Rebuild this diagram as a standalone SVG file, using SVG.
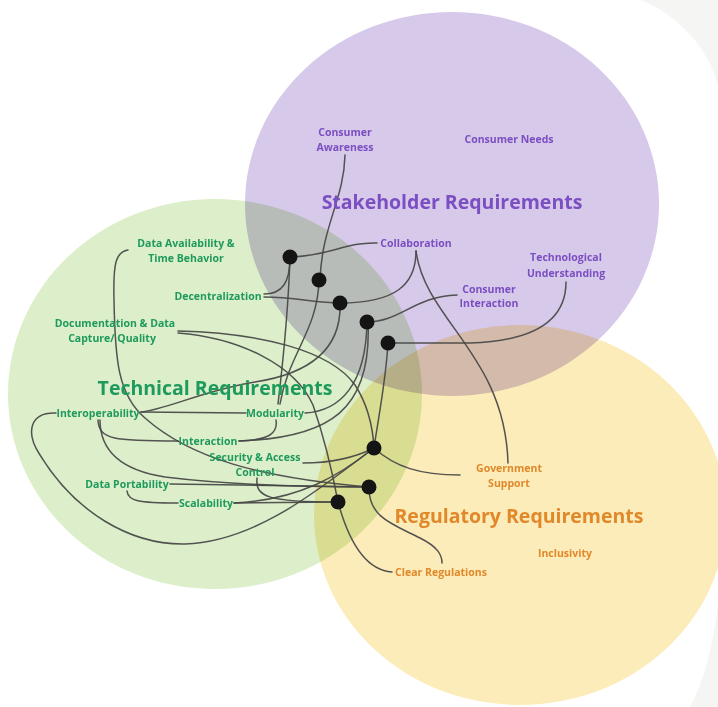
<svg xmlns="http://www.w3.org/2000/svg" width="718" height="707" viewBox="0 0 718 707">
<style>
.bg{fill:#ffffff}
.corner{fill:#f5f5f3}
.set{mix-blend-mode:multiply}
.link{fill:none;stroke:#454545;stroke-width:1.5;stroke-linecap:round;opacity:0.92}
.dot{fill:#141414}
text{font-family:"Open Sans","Noto Sans","Liberation Sans",sans-serif;font-weight:700;text-anchor:middle}
.lbl{font-size:10.5px}
.ttl{font-size:19.5px}
.p{fill:#7b4ec2}
.g{fill:#1e9a5c}
.o{fill:#e0882a}
</style>
<rect class="bg" x="0" y="0" width="718" height="707"/>
<path class="corner" d="M640,0 C678,14 708,48 718,85 L718,0 Z"/>
<path class="corner" d="M718,605 C712,652 702,686 690,707 L718,707 Z"/>
<g id="sets">
<ellipse id="set-stakeholder" class="set" cx="452" cy="204" rx="207" ry="192" fill="#d6c9ea"/>
<ellipse id="set-technical" class="set" cx="215" cy="394" rx="207" ry="195" fill="#dcefca"/>
<ellipse id="set-regulatory" class="set" cx="520" cy="515" rx="206" ry="190" fill="#fcecb9"/>
</g>
<g id="connectors">
<path class="link" d="M345,155 C344,200 322,225 320,280"/>
<path class="link" d="M290,257 C330,256 345,242 377,243"/>
<path class="link" d="M416,251 C416,285 395,303 340,303"/>
<path class="link" d="M416,251 C425,320 505,355 508,463"/>
<path class="link" d="M290,257 C290,283 282,294 264,294"/>
<path class="link" d="M264,297 C295,297 315,303 340,303"/>
<path class="link" d="M367,322 C400,322 415,296 457,295"/>
<path class="link" d="M388,343 L470,343 C535,341 566,320 566,282"/>
<path class="link" d="M290,257 C288,320 282,370 278,404"/>
<path class="link" d="M319,280 C318,330 288,355 280,404"/>
<path class="link" d="M276,420 C278,433 270,440 239,441"/>
<path class="link" d="M305,413 C340,411 366,385 367,322"/>
<path class="link" d="M239,441 C330,438 372,410 368,322"/>
<path class="link" d="M340,303 C342,355 300,375 255,382 C205,390 165,410 141,412"/>
<path class="link" d="M141,412 L246,413"/>
<path class="link" d="M98,420 C99,440 115,441 178,441"/>
<path class="link" d="M100,420 C100,450 120,470 165,477 C230,485 300,487 369,487"/>
<path class="link" d="M56,413 C30,412 25,432 40,455 C75,512 130,545 185,544 C260,542 330,480 374,448"/>
<path class="link" d="M128,250 C116,252 113,262 114,300 C115,360 118,395 145,418 C190,458 260,478 369,487"/>
<path class="link" d="M178,331 C260,333 330,350 355,385 C368,405 373,430 374,448"/>
<path class="link" d="M178,333 C240,338 295,365 313,405 C325,440 332,470 338,502"/>
<path class="link" d="M388,343 C386,380 378,420 374,448"/>
<path class="link" d="M303,463 C335,463 360,455 374,448"/>
<path class="link" d="M374,448 C395,467 420,475 460,475"/>
<path class="link" d="M170,484 L369,487"/>
<path class="link" d="M127,491 C128,501 138,503 178,503"/>
<path class="link" d="M234,503 L338,502"/>
<path class="link" d="M234,503 C300,500 340,475 374,448"/>
<path class="link" d="M257,478 C255,497 268,502 338,502"/>
<path class="link" d="M369,487 C368,518 395,525 420,538 C438,547 442,555 442,563"/>
<path class="link" d="M338,502 C347,535 362,570 392,572"/>
</g>
<g id="junctions">
<circle id="j1" class="dot" cx="290" cy="257" r="7.5"/>
<circle id="j2" class="dot" cx="319" cy="280" r="7.5"/>
<circle id="j3" class="dot" cx="340" cy="303" r="7.5"/>
<circle id="j4" class="dot" cx="367" cy="322" r="7.5"/>
<circle id="j5" class="dot" cx="388" cy="343" r="7.5"/>
<circle id="j6" class="dot" cx="374" cy="448" r="7.5"/>
<circle id="j7" class="dot" cx="369" cy="487" r="7.5"/>
<circle id="j8" class="dot" cx="338" cy="502" r="7.5"/>
</g>
<g id="title-stakeholder"><text class="ttl p" x="452" y="209">Stakeholder Requirements</text></g>
<g id="title-technical"><text class="ttl g" x="215" y="395">Technical Requirements</text></g>
<g id="title-regulatory"><text class="ttl o" x="519" y="523">Regulatory Requirements</text></g>
<g id="n-consumer-awareness"><text class="lbl p" x="345" y="136">Consumer</text><text class="lbl p" x="345" y="151">Awareness</text></g>
<g id="n-consumer-needs"><text class="lbl p" x="509" y="143">Consumer Needs</text></g>
<g id="n-collaboration"><text class="lbl p" x="416" y="247">Collaboration</text></g>
<g id="n-tech-understanding"><text class="lbl p" x="566" y="261">Technological</text><text class="lbl p" x="566" y="277">Understanding</text></g>
<g id="n-consumer-interaction"><text class="lbl p" x="489" y="293">Consumer</text><text class="lbl p" x="489" y="307">Interaction</text></g>
<g id="n-data-availability"><text class="lbl g" x="186" y="247">Data Availability &amp;</text><text class="lbl g" x="186" y="262">Time Behavior</text></g>
<g id="n-decentralization"><text class="lbl g" x="218" y="300">Decentralization</text></g>
<g id="n-documentation"><text class="lbl g" x="115" y="327">Documentation &amp; Data</text><text class="lbl g" x="112" y="342">Capture/ Quality</text></g>
<g id="n-interoperability"><text class="lbl g" x="98" y="417">Interoperability</text></g>
<g id="n-modularity"><text class="lbl g" x="275" y="417">Modularity</text></g>
<g id="n-interaction"><text class="lbl g" x="208" y="445">Interaction</text></g>
<g id="n-security"><text class="lbl g" x="255" y="461">Security &amp; Access</text><text class="lbl g" x="255" y="476">Control</text></g>
<g id="n-data-portability"><text class="lbl g" x="127" y="488">Data Portability</text></g>
<g id="n-scalability"><text class="lbl g" x="206" y="507">Scalability</text></g>
<g id="n-government-support"><text class="lbl o" x="509" y="472">Government</text><text class="lbl o" x="509" y="487">Support</text></g>
<g id="n-inclusivity"><text class="lbl o" x="565" y="557">Inclusivity</text></g>
<g id="n-clear-regulations"><text class="lbl o" x="441" y="576">Clear Regulations</text></g>
</svg>
